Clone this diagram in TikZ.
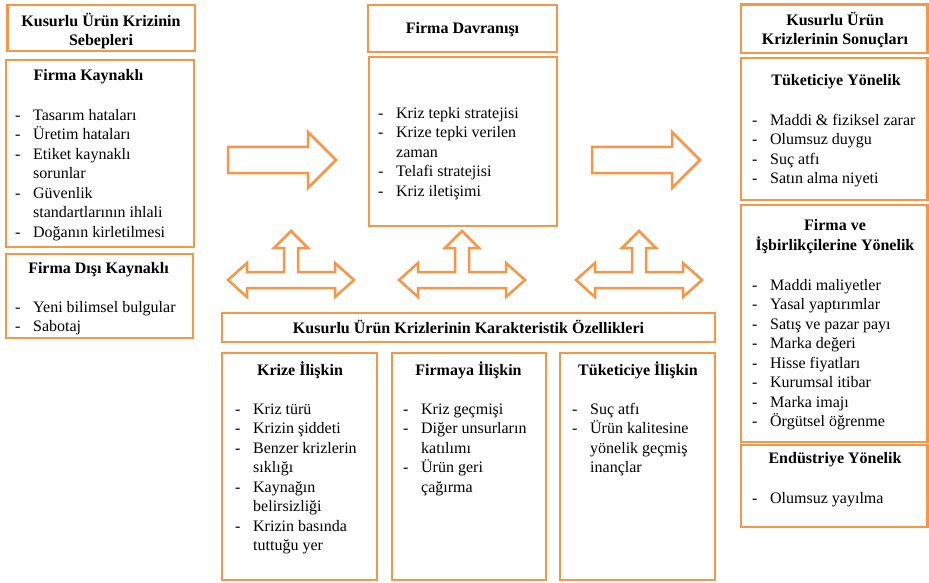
\documentclass[tikz,border=0pt]{standalone}
\usepackage{fontspec}
\setmainfont{Liberation Serif}
\definecolor{turuncu}{RGB}{247,150,70}
\newcommand{\madde}[1]{\makebox[18pt][l]{-}#1}
\newcommand{\devam}[1]{\hspace*{18pt}#1}
\begin{document}
\begin{tikzpicture}
[x=1pt,y=-1pt,
  kutudecorate/.style={draw=turuncu,line width=2.5pt,fill=white,inner sep=0pt},
  baslikdecorate/.style={anchor=north,inner sep=0pt,align=center,
    font=\fontsize{16}{19.5}\selectfont\bfseries},
  listedecorate/.style={anchor=north west,inner sep=0pt,align=left,
    font=\fontsize{16}{19.5}\selectfont},
  okdecorate/.style={draw=turuncu,line width=2.5pt,fill=white}]
\useasboundingbox (0,0) rectangle (929,583);
%% boxes
\foreach \kutuname/\x/\y/\w/\h in {sebep/101.25/28/187.5/46,
  kaynak/100/153.5/188/187, disi/99.5/296/187/84,
  davbaslik/462.5/28.5/189/47, davranis/463/141.5/188/169,
  sonbaslik/834.25/28.75/186.5/48.5, tuketici/834.25/129/186.5/142,
  firmave/834.25/323.5/186.5/237, endustri/834.25/486/186.5/82,
  ozellik/468.5/327.5/493/29, kriz/299.5/466.5/155/227,
  firmaya/469/466.5/154/227, tuketiciye/637.5/466.5/155/227}
{
  \node (\kutuname) at (\x,\y) [kutudecorate,minimum width=\w,minimum height=\h] {};
}
%% headings
\node (sebepb) at (101,12.35) [baslikdecorate] {\strut Kusurlu Ürün Krizinin\\Sebepleri};
\node (kaynakb) at (88.5,66.35) [baslikdecorate] {\strut Firma Kaynaklı};
\node (disib) at (98.5,259.35) [baslikdecorate] {\strut Firma Dışı Kaynaklı};
\node (davb) at (462.5,19.35) [baslikdecorate] {\strut Firma Davranışı};
\node (sonb) at (835,11.35) [baslikdecorate] {\strut Kusurlu Ürün\\Krizlerinin Sonuçları};
\node (tuketicib) at (836,71.35) [baslikdecorate] {\strut Tüketiciye Yönelik};
\node (firmaveb) at (835,216.35) [baslikdecorate] {\strut Firma ve\\İşbirlikçilerine Yönelik};
\node (endustrib) at (835,449.35) [baslikdecorate] {\strut Endüstriye Yönelik};
\node (ozellikb) at (468.5,319.35) [baslikdecorate] {\strut Kusurlu Ürün Krizlerinin Karakteristik Özellikleri};
\node (krizb) at (300,361.35) [baslikdecorate] {\strut Krize İlişkin};
\node (firmayab) at (468.5,361.35) [baslikdecorate] {\strut Firmaya İlişkin};
\node (tuketiciyeb) at (638,361.35) [baslikdecorate] {\strut Tüketiciye İlişkin};
%% lists
\node (kaynakl) at (15,106.35) [listedecorate] {\strut\madde{Tasarım hataları}\\
  \madde{Üretim hataları}\\ \madde{Etiket kaynaklı}\\ \devam{sorunlar}\\
  \madde{Güvenlik}\\ \devam{standartlarının ihlali}\\ \madde{Doğanın kirletilmesi}};
\node (disil) at (15,298.35) [listedecorate] {\strut\madde{Yeni bilimsel bulgular}\\
  \madde{Sabotaj}};
\node (davranisl) at (378,104.35) [listedecorate] {\strut\madde{Kriz tepki stratejisi}\\
  \madde{Krize tepki verilen}\\ \devam{zaman}\\ \madde{Telafi stratejisi}\\
  \madde{Kriz iletişimi}};
\node (tuketicil) at (752,111.35) [listedecorate] {\strut\madde{Maddi \& fiziksel zarar}\\
  \madde{Olumsuz duygu}\\ \madde{Suç atfı}\\ \madde{Satın alma niyeti}};
\node (firmavel) at (752,276.35) [listedecorate] {\strut\madde{Maddi maliyetler}\\
  \madde{Yasal yaptırımlar}\\ \madde{Satış ve pazar payı}\\ \madde{Marka değeri}\\
  \madde{Hisse fiyatları}\\ \madde{Kurumsal itibar}\\ \madde{Marka imajı}\\
  \madde{Örgütsel öğrenme}};
\node (endustril) at (752,489.35) [listedecorate] {\strut\madde{Olumsuz yayılma}};
\node (krizl) at (235,400.35) [listedecorate] {\strut\madde{Kriz türü}\\
  \madde{Krizin şiddeti}\\ \madde{Benzer krizlerin}\\ \devam{sıklığı}\\
  \madde{Kaynağın}\\ \devam{belirsizliği}\\ \madde{Krizin basında}\\
  \devam{tuttuğu yer}};
\node (firmayal) at (403,400.35) [listedecorate] {\strut\madde{Kriz geçmişi}\\
  \madde{Diğer unsurların}\\ \devam{katılımı}\\ \madde{Ürün geri}\\ \devam{çağırma}};
\node (tuketiciyel) at (572,400.35) [listedecorate] {\strut\madde{Suç atfı}\\
  \madde{Ürün kalitesine}\\ \devam{yönelik geçmiş}\\ \devam{inançlar}};
%% block arrows
\foreach \x in {0,364}
{
  \draw[okdecorate] (228+\x,147) -- (308+\x,147) -- (308+\x,132) -- (336+\x,160)
    -- (308+\x,188) -- (308+\x,173) -- (228+\x,173) -- cycle;
}
\foreach \cx in {291,462,639}
{
  \draw[okdecorate] (\cx-63,280) -- (\cx-44,263) -- (\cx-44,272) -- (\cx-7,272)
    -- (\cx-7,248) -- (\cx-17,248) -- (\cx,231) -- (\cx+17,248) -- (\cx+7,248)
    -- (\cx+7,272) -- (\cx+44,272) -- (\cx+44,263) -- (\cx+63,280) -- (\cx+44,297)
    -- (\cx+44,288) -- (\cx-44,288) -- (\cx-44,297) -- cycle;
}
\end{tikzpicture}
\end{document}
